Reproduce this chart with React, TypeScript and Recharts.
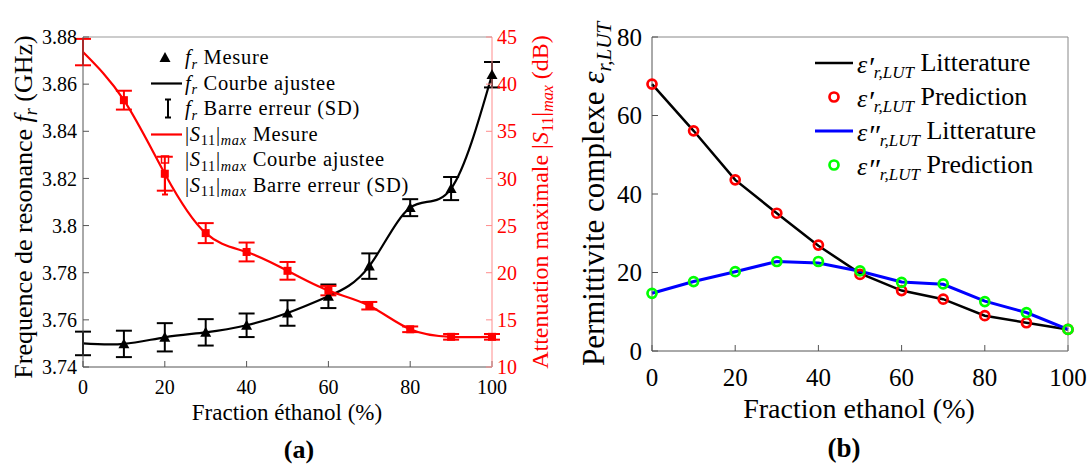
import { LineChart, Line, XAxis, YAxis, ErrorBar, Legend } from 'recharts';

const serif = '"Liberation Serif", "Times New Roman", serif';

// fraction of ethanol (%)
const fractions = [0, 10, 20, 30, 40, 50, 60, 70, 80, 90, 100];

// panel (a) : resonance frequency (GHz) and max attenuation (dB)
const frMeasured = [3.75, 3.7498, 3.7526, 3.7547, 3.7577, 3.7629, 3.77, 3.7828, 3.8076, 3.8157, 3.864];
const frError = [0.005, 0.0056, 0.006, 0.0056, 0.005, 0.0054, 0.005, 0.0054, 0.0036, 0.0049, 0.0054];
const s11Measured = [43.4, 38.3, 30.5, 24.2, 22.2, 20.2, 18.1, 16.5, 14.0, 13.2, 13.2];
const s11Error = [1.4, 1.0, 1.8, 1.06, 1.0, 0.94, 0.5, 0.4, 0.3, 0.3, 0.3];

// panel (b) : complex permittivity
const epsRealLit = [68.0, 56.1, 43.6, 35.1, 26.8, 19.8, 15.4, 13.2, 9.0, 7.2, 5.5];
const epsRealPred = [68.0, 56.1, 43.6, 35.1, 27.0, 19.5, 15.4, 13.2, 9.0, 7.2, 5.5];
const epsImagLit = [14.7, 17.7, 20.2, 22.8, 22.4, 20.3, 17.6, 17.0, 12.7, 9.8, 5.5];
const epsImagPred = [14.7, 17.7, 20.2, 22.8, 22.8, 20.4, 17.5, 17.1, 12.6, 9.8, 5.5];

const xTicks = [0, 20, 40, 60, 80, 100];
const frTicks = [3.74, 3.76, 3.78, 3.8, 3.82, 3.84, 3.86, 3.88];
const s11Ticks = [10, 15, 20, 25, 30, 35, 40, 45];
const epsTicks = [0, 20, 40, 60, 80];

const legendA = ['Mesure', 'Courbe ajustee', 'Barre erreur (SD)', 'Mesure', 'Courbe ajustee', 'Barre erreur (SD)'];
const legendB = ['Litterature', 'Prediction', 'Litterature', 'Prediction'];

const dataA = fractions.map((x, i) => ({
  x,
  fr: frMeasured[i],
  frErr: frError[i],
  s11: s11Measured[i],
  s11Err: s11Error[i],
}));

const dataB = fractions.map((x, i) => ({
  x,
  realLit: epsRealLit[i],
  realPred: epsRealPred[i],
  imagLit: epsImagLit[i],
  imagPred: epsImagPred[i],
}));

const TriangleDot = (props: any) => {
  const { cx, cy, payload } = props;
  if (cx == null || cy == null || payload.x === 0) return <g />;
  const s = 5.5;
  return <path d={`M${cx},${cy - s} L${cx + s},${cy + s * 0.8} L${cx - s},${cy + s * 0.8} Z`} fill="#000" />;
};

const SquareDot = (props: any) => {
  const { cx, cy, payload } = props;
  if (cx == null || cy == null || payload.x === 0) return <g />;
  return <rect x={cx - 4} y={cy - 4} width={8} height={8} fill="#ff0000" />;
};

const sub = { fontSize: '0.7em', position: 'relative' as const, top: '0.3em' };

const Fr = () => (
  <span>
    <i>f</i>
    <i style={sub}>r</i>
  </span>
);

const S11 = () => (
  <span>
    |<i>S</i>
    <span style={sub}>11</span>|<i style={sub}>max</i>
  </span>
);

const Eps = ({ primes }: { primes: string }) => (
  <span style={{ whiteSpace: 'nowrap' }}>
    <i>ε</i>
    <i style={{ fontSize: 30, position: 'relative', top: 4 }}>{primes}</i>
    <i style={{ fontSize: 17, position: 'relative', top: 5 }}>r,LUT</i>
  </span>
);

const iconA = (i: number) => {
  if (i === 0) return <path d="M14,-5.5 L19.5,4.4 L8.5,4.4 Z" fill="#000" />;
  if (i === 1) return <line x1={0} x2={31} y1={0} y2={0} stroke="#000" strokeWidth={2.2} />;
  if (i === 2)
    return (
      <g stroke="#000" strokeWidth={2}>
        <line x1={17} x2={17} y1={-9} y2={9} />
        <line x1={14} x2={20} y1={-9} y2={-9} />
        <line x1={14} x2={20} y1={9} y2={9} />
      </g>
    );
  if (i === 3) return <line x1={0} x2={31} y1={0} y2={0} stroke="#ff0000" strokeWidth={2.2} />;
  if (i === 4) return <rect x={10.5} y={-3.5} width={7} height={7} fill="none" stroke="#ff0000" strokeWidth={1.5} />;
  return (
    <g stroke="#ff0000" strokeWidth={2}>
      <line x1={14} x2={14} y1={-9} y2={9} />
      <line x1={11} x2={17} y1={-9} y2={-9} />
      <line x1={11} x2={17} y1={9} y2={9} />
    </g>
  );
};

const LegendA = () => (
  <div style={{ fontFamily: serif, fontSize: 20.5, letterSpacing: 0.7, color: '#000' }}>
    {legendA.map((label, i) => (
      <div key={i} style={{ display: 'flex', alignItems: 'center', height: 25.5, whiteSpace: 'nowrap' }}>
        <svg width={34} height={25} viewBox="0 -12.5 34 25" style={{ overflow: 'visible' }}>
          {iconA(i)}
        </svg>
        {i < 3 ? <Fr /> : <S11 />}
        <span>&nbsp;{label}</span>
      </div>
    ))}
  </div>
);

const iconB = (i: number) => {
  if (i === 0) return <line x1={0} x2={38} y1={0} y2={0} stroke="#000" strokeWidth={2.5} />;
  if (i === 1) return <circle cx={19} cy={0} r={4.5} fill="none" stroke="#ff0000" strokeWidth={2.7} />;
  if (i === 2) return <line x1={0} x2={38} y1={0} y2={0} stroke="#0000ff" strokeWidth={3} />;
  return <circle cx={19} cy={0} r={4.5} fill="none" stroke="#00ff00" strokeWidth={2.7} />;
};

const LegendB = () => (
  <div style={{ fontFamily: serif, fontSize: 26, color: '#000' }}>
    {legendB.map((label, i) => (
      <div key={i} style={{ display: 'flex', alignItems: 'center', height: 34, whiteSpace: 'nowrap' }}>
        <svg width={42} height={30} viewBox="0 -15 42 30" style={{ overflow: 'visible' }}>
          {iconB(i)}
        </svg>
        <Eps primes={i < 2 ? '′' : '″'} />
        <span>&nbsp;{label}</span>
      </div>
    ))}
  </div>
);

const App = () => {
  return (
    <div style={{ position: 'absolute', left: 0, top: 0, width: 1089, height: 464, background: '#fff' }}>
      <div style={{ position: 'absolute', left: 0, top: 0 }}>
        <LineChart width={560} height={464} data={dataA} margin={{ top: 36, right: 0, bottom: 67, left: 0 }}>
          <XAxis
            xAxisId="bottom"
            dataKey="x"
            type="number"
            domain={[0, 100]}
            ticks={xTicks}
            height={30}
            tickSize={-6}
            tickMargin={19}
            stroke="#555"
            tick={{ fill: '#000', fontSize: 20, fontFamily: serif }}
          />
          <XAxis xAxisId="top" orientation="top" dataKey="x" type="number" domain={[0, 100]} ticks={xTicks} height={1} tickSize={-6} tick={false} stroke="#999" />
          <YAxis
            yAxisId="fr"
            domain={[3.74, 3.88]}
            ticks={frTicks}
            width={83}
            tickSize={-6}
            tickMargin={12}
            allowDataOverflow
            stroke="#555"
            tick={{ fill: '#000', fontSize: 20, fontFamily: serif }}
            tickFormatter={(v: number) => String(Number(v.toFixed(2)))}
          />
          <YAxis
            yAxisId="s11"
            orientation="right"
            domain={[10, 45]}
            ticks={s11Ticks}
            width={68}
            tickSize={-6}
            tickMargin={11}
            allowDataOverflow
            stroke="#ff8c8c"
            tick={{ fill: '#ff0000', fontSize: 20, fontFamily: serif }}
          />
          <Line xAxisId="bottom" yAxisId="fr" name="frFit" dataKey="fr" type="natural" stroke="#000" strokeWidth={2.2} dot={false} activeDot={false} isAnimationActive={false} />
          <Line xAxisId="bottom" yAxisId="fr" name="frMes" dataKey="fr" stroke="none" dot={<TriangleDot />} activeDot={false} isAnimationActive={false}>
            <ErrorBar dataKey="frErr" width={8} strokeWidth={2} stroke="#000" direction="y" />
          </Line>
          <Line xAxisId="bottom" yAxisId="s11" name="s11Fit" dataKey="s11" type="natural" stroke="#ff0000" strokeWidth={2.2} dot={false} activeDot={false} isAnimationActive={false} />
          <Line xAxisId="bottom" yAxisId="s11" name="s11Mes" dataKey="s11" stroke="none" dot={<SquareDot />} activeDot={false} isAnimationActive={false}>
            <ErrorBar dataKey="s11Err" width={8} strokeWidth={2} stroke="#ff0000" direction="y" />
          </Line>
          <Legend
            layout="horizontal"
            verticalAlign="middle"
            align="center"
            content={() => <LegendA />}
            wrapperStyle={{ left: 151, top: 45, width: 330, height: 160 }}
          />
        </LineChart>
      </div>
      <div style={{ position: 'absolute', left: 560, top: 0 }}>
        <LineChart width={529} height={464} data={dataB} margin={{ top: 36, right: 20, bottom: 78, left: 0 }}>
          <XAxis
            xAxisId="bottom"
            dataKey="x"
            type="number"
            domain={[0, 100]}
            ticks={xTicks}
            height={35}
            tickSize={-6}
            tickMargin={23}
            stroke="#555"
            tick={{ fill: '#000', fontSize: 25, fontFamily: serif }}
          />
          <XAxis xAxisId="top" orientation="top" dataKey="x" type="number" domain={[0, 100]} ticks={xTicks} height={1} tickSize={-6} tick={false} stroke="#888" />
          <YAxis
            yAxisId="eps"
            domain={[0, 80]}
            ticks={epsTicks}
            width={92}
            tickSize={-6}
            tickMargin={16}
            stroke="#555"
            tick={{ fill: '#000', fontSize: 25, fontFamily: serif }}
          />
          <YAxis yAxisId="frame" orientation="right" domain={[0, 80]} ticks={epsTicks} width={1} tickSize={-6} tick={false} stroke="#888" />
          <Line xAxisId="bottom" yAxisId="eps" dataKey="realLit" type="linear" stroke="#000" strokeWidth={2.5} dot={false} activeDot={false} isAnimationActive={false} />
          <Line
            xAxisId="bottom"
            yAxisId="eps"
            dataKey="realPred"
            stroke="none"
            dot={{ r: 4.5, stroke: '#ff0000', strokeWidth: 2.7, fill: 'none' }}
            activeDot={false}
            isAnimationActive={false}
          />
          <Line xAxisId="bottom" yAxisId="eps" dataKey="imagLit" type="linear" stroke="#0000ff" strokeWidth={3} dot={false} activeDot={false} isAnimationActive={false} />
          <Line
            xAxisId="bottom"
            yAxisId="eps"
            dataKey="imagPred"
            stroke="none"
            dot={{ r: 4.5, stroke: '#00ff00', strokeWidth: 2.7, fill: 'none' }}
            activeDot={false}
            isAnimationActive={false}
          />
          <Legend
            layout="horizontal"
            verticalAlign="middle"
            align="center"
            content={() => <LegendB />}
            wrapperStyle={{ left: 255, top: 46, width: 240, height: 140 }}
          />
        </LineChart>
      </div>
      <svg width={1089} height={464} style={{ position: 'absolute', left: 0, top: 0, pointerEvents: 'none' }} fontFamily={serif}>
        <text transform="translate(32,207) rotate(-90)" textAnchor="middle" fontSize={26} fill="#000">
          Frequence de resonance <tspan fontStyle="italic">f</tspan>
          <tspan fontStyle="italic" fontSize={18} dy={5}>r</tspan>
          <tspan dy={-5}> (GHz)</tspan>
        </text>
        <text transform="translate(548,202) rotate(-90)" textAnchor="middle" fontSize={24} fill="#ff0000">
          Attenuation maximale |<tspan fontStyle="italic">S</tspan>
          <tspan fontSize={16} dy={5}>11</tspan>
          <tspan dy={-5}>|</tspan>
          <tspan fontStyle="italic" fontSize={16} dy={5}>max</tspan>
          <tspan dy={-5}> (dB)</tspan>
        </text>
        <text x={287} y={420} textAnchor="middle" fontSize={23} fill="#000">
          Fraction éthanol (%)
        </text>
        <text x={299} y={458} textAnchor="middle" fontSize={26} fontWeight="bold" fill="#000">
          (a)
        </text>
        <text transform="translate(604,194) rotate(-90)" textAnchor="middle" fontSize={31} fill="#000">
          Permittivite complexe <tspan fontStyle="italic">ε</tspan>
          <tspan fontStyle="italic" fontSize={21} dy={7}>r,LUT</tspan>
        </text>
        <text x={859} y={418} textAnchor="middle" fontSize={28} fill="#000">
          Fraction ethanol (%)
        </text>
        <text x={844} y={457} textAnchor="middle" fontSize={27} fontWeight="bold" fill="#000">
          (b)
        </text>
      </svg>
    </div>
  );
};

export default App;
